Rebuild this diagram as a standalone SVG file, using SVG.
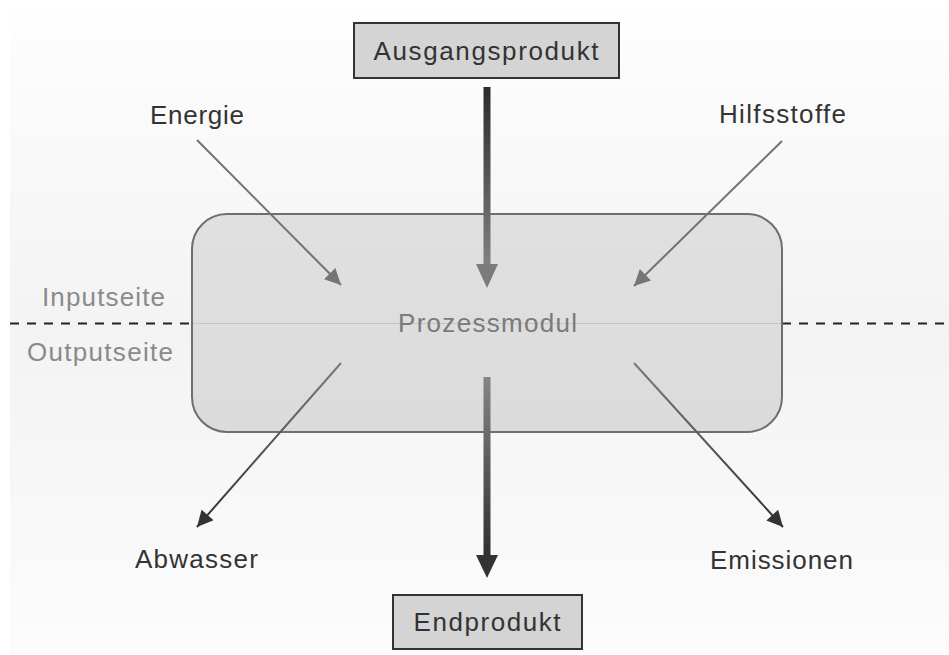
<svg xmlns="http://www.w3.org/2000/svg" width="949" height="655" viewBox="0 0 949 655">
  <defs>
    <linearGradient id="bg" x1="0" y1="0" x2="0" y2="1">
      <stop offset="0" stop-color="#fefefe"/>
      <stop offset="0.5" stop-color="#f3f3f3"/>
      <stop offset="1" stop-color="#fcfcfc"/>
    </linearGradient>
    <linearGradient id="moduleFill" x1="0" y1="0" x2="0" y2="1">
      <stop offset="0" stop-color="#e0e0e0"/>
      <stop offset="1" stop-color="#dbdbdb"/>
    </linearGradient>
    <linearGradient id="inMain" gradientUnits="userSpaceOnUse" x1="0" y1="88" x2="0" y2="268">
      <stop offset="0" stop-color="#2b2b2b"/>
      <stop offset="1" stop-color="#828282"/>
    </linearGradient>
    <linearGradient id="outMain" gradientUnits="userSpaceOnUse" x1="0" y1="377" x2="0" y2="558">
      <stop offset="0" stop-color="#858585"/>
      <stop offset="1" stop-color="#2e2e2e"/>
    </linearGradient>
    <linearGradient id="outLeft" gradientUnits="userSpaceOnUse" x1="341" y1="363" x2="203" y2="520">
      <stop offset="0" stop-color="#7a7a7a"/>
      <stop offset="1" stop-color="#333333"/>
    </linearGradient>
    <linearGradient id="outRight" gradientUnits="userSpaceOnUse" x1="634" y1="363" x2="777" y2="520">
      <stop offset="0" stop-color="#7a7a7a"/>
      <stop offset="1" stop-color="#333333"/>
    </linearGradient>
    <marker id="headGray" viewBox="0 0 10 10" refX="10" refY="5" markerWidth="18" markerHeight="16" markerUnits="userSpaceOnUse" orient="auto">
      <path d="M0,0 L10,5 L0,10 Z" fill="#757575"/>
    </marker>
    <marker id="headDark" viewBox="0 0 10 10" refX="10" refY="5" markerWidth="18" markerHeight="16" markerUnits="userSpaceOnUse" orient="auto">
      <path d="M0,0 L10,5 L0,10 Z" fill="#333333"/>
    </marker>
  </defs>
  <style>
    text { font-family: "Liberation Sans", Arial, sans-serif; font-size: 26px; text-anchor: middle; fill: #333333; }
    .muted { fill: #7a7a7a; }
    .side { fill: #8a8a8a; }
    .product { fill: #d4d4d4; stroke: #333333; stroke-width: 2; }
    .thin { fill: none; stroke-width: 2; }
    .divider { stroke: #222222; stroke-width: 2; stroke-dasharray: 9 8; }
  </style>

  <!-- backdrop -->
  <rect x="0" y="0" width="949" height="655" fill="#ffffff"/>
  <rect x="10" y="6" width="939" height="649" fill="url(#bg)"/>

  <!-- input / output divider -->
  <g id="divider">
    <line class="divider" x1="10" y1="323.5" x2="192" y2="323.5"/>
    <line class="divider" x1="782" y1="323.5" x2="949" y2="323.5"/>
    <text class="side" x="103.5" y="306" textLength="123" lengthAdjust="spacing">Inputseite</text>
    <text class="side" x="100" y="361" textLength="146" lengthAdjust="spacing">Outputseite</text>
  </g>

  <!-- central process module -->
  <g id="prozessmodul">
    <rect x="192" y="214" width="590" height="218" rx="35" ry="35" fill="url(#moduleFill)" stroke="#6e6e6e" stroke-width="2"/>
    <line x1="193" y1="323.5" x2="781" y2="323.5" stroke="#c6c6c6" stroke-width="1"/>
    <text class="muted" x="487.5" y="332" textLength="179" lengthAdjust="spacing">Prozessmodul</text>
  </g>

  <g id="ausgangsprodukt">
    <rect class="product" x="354" y="23" width="265" height="55"/>
    <text x="486" y="60" textLength="225" lengthAdjust="spacing">Ausgangsprodukt</text>
  </g>

  <g id="endprodukt">
    <rect class="product" x="393" y="595" width="189" height="54"/>
    <text x="487" y="631" textLength="147" lengthAdjust="spacing">Endprodukt</text>
  </g>

  <g id="energie">
    <text x="197" y="124" textLength="94" lengthAdjust="spacing">Energie</text>
  </g>
  <g id="hilfsstoffe">
    <text x="782.5" y="123" textLength="127" lengthAdjust="spacing">Hilfsstoffe</text>
  </g>
  <g id="abwasser">
    <text x="196.5" y="568" textLength="123" lengthAdjust="spacing">Abwasser</text>
  </g>
  <g id="emissionen">
    <text x="781.5" y="569" textLength="143" lengthAdjust="spacing">Emissionen</text>
  </g>

  <!-- flows into and out of the module -->
  <g id="connectors">
    <!-- main product flow -->
    <rect x="483.5" y="87" width="7" height="180" fill="url(#inMain)"/>
    <polygon points="476,264 498,264 487,288" fill="#7b7b7b"/>
    <rect x="483.5" y="377" width="7" height="180" fill="url(#outMain)"/>
    <polygon points="476,555 498,555 487,578" fill="#333333"/>

    <!-- auxiliary inputs -->
    <line class="thin" x1="197" y1="140" x2="341" y2="285" stroke="#727272" marker-end="url(#headGray)"/>
    <line class="thin" x1="782" y1="141" x2="634" y2="286" stroke="#727272" marker-end="url(#headGray)"/>

    <!-- side outputs -->
    <line class="thin" x1="341" y1="363" x2="197" y2="527" stroke="url(#outLeft)" marker-end="url(#headDark)"/>
    <line class="thin" x1="634" y1="363" x2="783" y2="527" stroke="url(#outRight)" marker-end="url(#headDark)"/>
  </g>
</svg>
